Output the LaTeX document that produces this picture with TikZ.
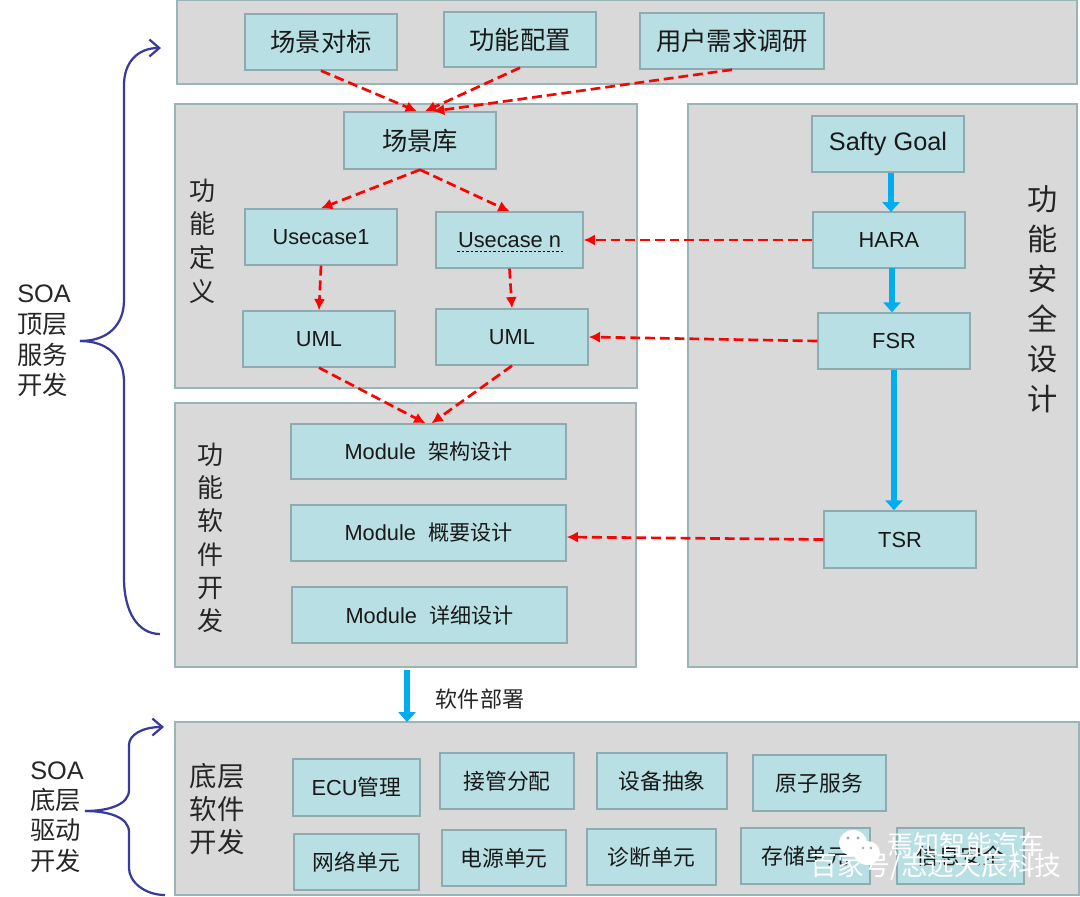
\documentclass[tikz,border=0pt]{standalone}
\usepackage{fontspec}
\setmainfont{Liberation Sans}
\newfontfamily\cjk{Noto Sans CJK SC}
\usetikzlibrary{arrows.meta}
\definecolor{panelgray}{HTML}{D9D9D9}
\definecolor{panelline}{HTML}{9AB5B8}
\definecolor{boxfill}{HTML}{B8DFE3}
\definecolor{boxline}{HTML}{8FABAF}
\definecolor{flowblue}{HTML}{00AEEF}
\definecolor{bracecol}{HTML}{3A3A9C}
\tikzset{
  wh/.style 2 args={minimum width=#1*0.025cm, minimum height=#2*0.025cm, inner sep=0pt},
  panel/.style={draw=panelline, fill=panelgray, line width=1pt},
  box/.style={draw=boxline, fill=boxfill, line width=1pt, text=black!90, font=\fontsize{15.5}{18}\selectfont},
  bigbox/.style={box, font=\fontsize{18}{22}\selectfont},
  side/.style={align=center, text=black!85},
  reddash/.style={-{Latex[length=8pt,width=8pt]}, red, line width=1.9pt, dash pattern=on 7pt off 3.5pt},
  blueflow/.style={-{Triangle[length=7pt,width=12pt]}, flowblue, line width=4.8pt},
  bracearrow/.style={bracecol, line width=1.6pt},
  wmark/.style={text=white, font=\fontsize{18.5}{22}\selectfont\cjk}
}

\begin{document}
\begin{tikzpicture}[x=0.025cm, y=-0.025cm]
    \useasboundingbox (0, 0) rectangle (1080, 896);

    % panels
    \node[panel, wh={900}{84}] at (627, 42) (top) {};
    \node[panel, wh={462}{284}] at (406, 246) (define) {};
    \node[panel, wh={461}{264}] at (405.5, 535) (software) {};
    \node[panel, wh={389}{563}] at (882.5, 385.5) (safety) {};
    \node[panel, wh={904}{173}] at (627, 808.5) (bottom) {};

    % top row
    \node[bigbox, wh={152}{56}] at (321, 42) (bench) {\cjk 场景对标};
    \node[bigbox, wh={152}{55}] at (520, 39.5) (config) {\cjk 功能配置};
    \node[bigbox, wh={184}{56}] at (732, 41) (survey) {\cjk 用户需求调研};

    % function definition
    \node[bigbox, wh={152}{57}] at (420, 140.5) (scene) {\cjk 场景库};
    \node[box, wh={152}{56}] at (321, 237) (caseA) {Usecase1};
    \node[box, wh={147}{56}] at (509.5, 240) (caseN) {Usecase n};
    \node[box, wh={152}{56}] at (319, 339) (umlA) {UML};
    \node[box, wh={152}{56}] at (512, 337) (umlB) {UML};
    \coordinate (lineA) at (457, 251);
    \coordinate (lineB) at (563, 251);
    \draw[black, line width=0.6pt, dash pattern=on 2pt off 1.2pt] (lineA) -- (lineB);

    % software modules
    \node[box, wh={275}{55}] at (428.5, 451.5) (modA) {Module\; {\cjk\fontsize{15}{18}\selectfont 架构设计}};
    \node[box, wh={275}{56}] at (428.5, 533) (modB) {Module\; {\cjk\fontsize{15}{18}\selectfont 概要设计}};
    \node[box, wh={275}{56}] at (429.5, 615) (modC) {Module\; {\cjk\fontsize{15}{18}\selectfont 详细设计}};

    % safety chain
    \node[bigbox, wh={152}{56}] at (888, 144) (goal) {Safty Goal};
    \node[box, wh={152}{56}] at (889, 240) (hara) {HARA};
    \node[box, wh={152}{56}] at (894, 341) (fsr) {FSR};
    \node[box, wh={152}{57}] at (900, 539.5) (tsr) {TSR};

    % bottom boxes
    \node[box, wh={127}{57}] at (356.5, 787.5) (ecu) {ECU{\cjk 管理}};
    \node[box, wh={134}{56}] at (507, 781) (takeover) {\cjk 接管分配};
    \node[box, wh={130}{56}] at (662, 781) (device) {\cjk 设备抽象};
    \node[box, wh={133}{56}] at (819.5, 783) (atom) {\cjk 原子服务};
    \node[box, wh={125}{56}] at (356.5, 862) (network) {\cjk 网络单元};
    \node[box, wh={124}{56}] at (504, 858) (power) {\cjk 电源单元};
    \node[box, wh={129}{56}] at (651.5, 857) (diag) {\cjk 诊断单元};
    \node[box, wh={129}{56}] at (805.5, 856) (store) {\cjk 存储单元};
    \node[box, wh={127}{56}] at (960.5, 856) (infosec) {\cjk 信息安全};

    % panel titles
    \node[side, font=\fontsize{18.5}{24}\selectfont\cjk] at (203, 241) (tA) {功\\能\\定\\义};
    \node[side, font=\fontsize{18.5}{23.7}\selectfont\cjk] at (211, 538) (tB) {功\\能\\软\\件\\开\\发};
    \node[side, font=\fontsize{21.5}{28.4}\selectfont\cjk] at (1043, 299) (tC) {功\\能\\安\\全\\设\\计};
    \node[side, font=\fontsize{19.5}{23.5}\selectfont\cjk] at (217, 809) (tD) {底层\\软件\\开发};
    \node[side, font=\fontsize{15.7}{18}\selectfont\cjk] at (480, 699) (deploy) {软件部署};

    % left labels
    \node[side, align=left, anchor=west, inner sep=0pt, font=\fontsize{18}{21.8}\selectfont] at (17, 341) (soaTop) {SOA\\{\cjk 顶层}\\{\cjk 服务}\\{\cjk 开发}};
    \node[side, align=left, anchor=west, inner sep=0pt, font=\fontsize{18}{21.5}\selectfont] at (30, 817) (soaLow) {SOA\\{\cjk 底层}\\{\cjk 驱动}\\{\cjk 开发}};

    % red flows
    \draw (bench.south) edge[reddash] ([xshift=-3*0.025cm]scene.north);
    \draw (config.south) edge[reddash] ([xshift=5*0.025cm]scene.north);
    \draw (survey.south) edge[reddash] ([xshift=13*0.025cm]scene.north);
    \draw (scene.south) edge[reddash] (caseA.north);
    \draw (scene.south) edge[reddash] (caseN.north);
    \draw (caseA.south) edge[reddash] (umlA.north);
    \draw (caseN.south) edge[reddash] (umlB.north);
    \draw (umlA.south) edge[reddash] ([xshift=-3*0.025cm]modA.north);
    \draw (umlB.south) edge[reddash] ([xshift=3*0.025cm]modA.north);
    \draw (hara.west) edge[reddash] (caseN.east);
    \draw (fsr.west) edge[reddash] (umlB.east);
    \draw (tsr.west) edge[reddash] ([yshift=-4*0.025cm]modB.east);

    % blue flows
    \coordinate (deployA) at (407, 670);
    \coordinate (deployB) at (407, 722);
    \coordinate (flowA) at (891, 212);
    \coordinate (flowB) at (892, 268);
    \draw (goal.south -| flowA) edge[blueflow] (flowA);
    \draw (flowB) edge[blueflow] (flowB |- fsr.north);
    \draw (fsr.south) edge[blueflow] (fsr.south |- tsr.north);
    \draw (deployA) edge[blueflow] (deployB);

    % braces
    \coordinate (braceA) at (80, 341);
    \coordinate (braceAup) at (161, 48);
    \coordinate (braceAdn) at (160, 634);
    \coordinate (braceB) at (85, 811);
    \coordinate (braceBup) at (164, 727);
    \coordinate (braceBdn) at (165, 895);
    \draw[bracearrow, -{Straight Barb[length=7pt,width=12pt]}] (braceA) .. controls (108, 341) and (124, 325) .. (124, 300) -- (124, 85) .. controls (124, 62) and (138, 48) .. (braceAup);
    \draw[bracearrow] (braceA) .. controls (108, 341) and (124, 357) .. (124, 382) -- (124, 578) .. controls (124, 612) and (138, 634) .. (braceAdn);
    \draw[bracearrow, -{Straight Barb[length=7pt,width=12pt]}] (braceB) .. controls (108, 811) and (129, 805) .. (129, 790) -- (129, 745) .. controls (129, 735) and (142, 727) .. (braceBup);
    \draw[bracearrow] (braceB) .. controls (108, 811) and (129, 817) .. (129, 832) -- (129, 868) .. controls (129, 882) and (145, 895) .. (braceBdn);

    % watermark
    \fill[white] (853, 843) ellipse (14 and 13);
    \fill[white] (867, 853) ellipse (13 and 12);
    \fill[gray!70] (848, 838) circle (1.6) (858, 838) circle (1.6) (863, 848) circle (1.4) (871, 848) circle (1.4);
    \node[wmark] at (966, 845) (wmA) {焉知智能汽车};
    \node[wmark, font=\fontsize{19}{22}\selectfont\cjk] at (936, 867) (wmB) {百家号/志远天辰科技};
\end{tikzpicture}
\end{document}
